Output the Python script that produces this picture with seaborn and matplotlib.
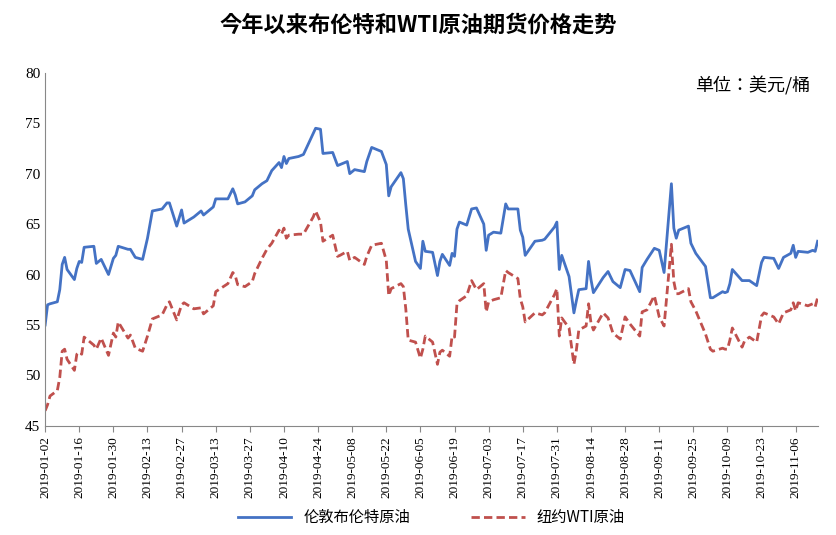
import matplotlib.pyplot as plt
import matplotlib.dates as mdates
import seaborn as sns
import pandas as pd

plt.switch_backend("Agg")
plt.rcParams["font.family"] = ["Noto Sans CJK SC", "Noto Sans CJK JP", "Noto Sans CJK TC",
                               "Noto Sans CJK KR", "DejaVu Sans"]

dates = ["01-02","01-03","01-04","01-07","01-08","01-09","01-10","01-11","01-14","01-15","01-16","01-17","01-18",
         "01-22","01-23","01-25","01-28","01-30","01-31","02-01","02-05","02-06","02-08","02-11","02-13","02-15",
         "02-19","02-21","02-22","02-25","02-27","02-28","03-04","03-07","03-08","03-12","03-13","03-18","03-20",
         "03-21","03-22","03-25","03-28","03-29","04-01","04-03","04-05","04-08","04-09","04-10","04-11","04-12",
         "04-16","04-18","04-22","04-23","04-25","04-26","04-30","05-02","05-03","05-06","05-07","05-09","05-13",
         "05-14","05-16","05-20","05-22","05-23","05-24","05-28","05-29","05-30","05-31","06-03","06-05","06-06",
         "06-07","06-10","06-12","06-13","06-14","06-17","06-18","06-19","06-20","06-21","06-24","06-26","06-28",
         "07-01","07-02","07-03","07-05","07-08","07-10","07-11","07-15","07-16","07-17","07-18","07-22","07-25",
         "07-26","07-30","07-31","08-01","08-02","08-05","08-07","08-08","08-09","08-12","08-13","08-14","08-15",
         "08-19","08-21","08-23","08-26","08-28","08-30","09-03","09-04","09-06","09-09","09-11","09-13","09-16",
         "09-17","09-18","09-19","09-23","09-24","09-26","09-30","10-02","10-03","10-07","10-08","10-09","10-10",
         "10-11","10-15","10-16","10-18","10-21","10-23","10-24","10-28","10-30","11-01","11-04","11-05","11-06",
         "11-07","11-11","11-13","11-14","11-15"]

brent = [55,57,57.1,57.3,58.5,61,61.7,60.5,59.5,60.6,61.3,61.2,62.7,
         62.8,61.1,61.5,60,61.6,61.9,62.8,62.5,62.5,61.7,61.5,63.6,66.3,
         66.5,67.1,67.1,64.8,66.4,65.1,65.7,66.3,65.9,66.7,67.5,67.5,68.5,
         67.9,67,67.2,67.8,68.4,69,69.3,70.3,71.1,70.6,71.7,71,71.5,
         71.7,71.9,74,74.5,74.4,72,72.1,70.8,70.9,71.2,70,70.4,70.2,
         71.2,72.6,72.2,70.9,67.8,68.7,70.1,69.5,66.9,64.5,61.3,60.6,63.3,
         62.3,62.2,59.9,61.3,62,60.9,62.1,61.8,64.5,65.2,64.9,66.5,66.6,
         65,62.4,63.9,64.2,64.1,67,66.5,66.5,64.4,63.7,61.9,63.3,63.4,
         63.5,64.7,65.2,60.5,61.9,59.8,56.2,57.4,58.5,58.6,61.3,59.5,58.2,
         59.7,60.3,59.3,58.7,60.5,60.4,58.3,60.7,61.5,62.6,62.4,60.2,69,
         64.6,63.6,64.4,64.8,63.1,62.1,60.8,57.7,57.7,58.3,58.2,58.3,59.1,
         60.5,59.4,59.4,59.4,58.9,61.2,61.7,61.6,60.6,61.7,62.1,62.9,61.7,
         62.3,62.2,62.4,62.3,63.3]

wti = [46.5,47.1,47.96,48.5,49.8,52.4,52.6,51.6,50.5,52.1,52.3,52.1,53.8,
       53,52.6,53.7,51.99,54.2,53.8,55.3,53.7,54,52.7,52.4,53.9,55.6,
       56,57,57.3,55.5,57,57.2,56.6,56.7,56.1,56.9,58.3,59.1,60.2,
       59.9,59,58.8,59.3,60.1,61.6,62.5,63.1,64.4,64,64.6,63.6,63.9,
       64,64,65.7,66.3,65.2,63.3,63.9,61.8,61.9,62.3,61.4,61.7,61,
       61.8,62.9,63.1,61.4,57.9,58.6,59.1,58.8,56.6,53.5,53.3,51.7,52.6,
       53.9,53.3,51.1,52.3,52.5,51.9,53.9,53.8,57.1,57.4,57.9,59.4,58.5,
       59.1,56.3,57.3,57.5,57.7,60.4,60.2,59.6,57.6,56.8,55.3,56.2,56,
       56.2,58,58.6,53.9,55.7,54.7,51.1,52.5,54.5,54.9,57.1,55.2,54.5,
       56.2,55.7,54.2,53.6,55.8,55.1,53.9,56.3,56.5,57.9,55.8,54.9,63,
       59.3,58.1,58.1,58.6,57.3,56.4,54.1,52.6,52.4,52.7,52.6,52.6,53.5,
       54.7,52.8,53.4,53.8,53.3,55.9,56.2,55.8,55.1,56.2,56.5,57.2,56.4,
       57.2,56.9,57.1,56.8,57.7]

df = pd.DataFrame({"date": pd.to_datetime(["2019-" + d for d in dates]),
                   "伦敦布伦特原油": brent, "纽约WTI原油": wti})
long = df.melt(id_vars="date", var_name="series", value_name="price")

fig = plt.figure(figsize=(8.36, 5.35), dpi=100)
ax = fig.add_axes([0.054, 0.204, 0.924, 0.66])
sns.lineplot(data=long, x="date", y="price", hue="series", style="series",
             palette=["#4472C4", "#C0504D"], dashes=[(None, None), (3, 1.5)],
             linewidth=2, ax=ax)

ax.set_ylim(45, 80)
ax.set_xlim(pd.Timestamp("2019-01-02"), pd.Timestamp("2019-11-15"))
ax.set_xticks(pd.date_range("2019-01-02", "2019-11-15", freq="14D"))
ax.xaxis.set_major_formatter(mdates.DateFormatter("%Y-%m-%d"))
for lab in ax.get_xticklabels():
    lab.set_rotation(90)
    lab.set_fontfamily("Liberation Serif")
    lab.set_fontsize(9.5)
for lab in ax.get_yticklabels():
    lab.set_fontfamily("Liberation Serif")
    lab.set_fontsize(11)
ax.set_xlabel("")
ax.set_ylabel("")
for s in ["top", "right"]:
    ax.spines[s].set_visible(False)
ax.spines["left"].set_color("#888888")
ax.spines["bottom"].set_color("#888888")
ax.tick_params(axis="y", length=0)
ax.tick_params(axis="x", length=4, color="#888888")

ax.text(0.99, 0.99, "单位：美元/桶", transform=ax.transAxes, ha="right", va="top", fontsize=13)
fig.suptitle("今年以来布伦特和WTI原油期货价格走势", fontsize=16, fontweight="bold", y=0.975)
ax.legend(loc="upper center", bbox_to_anchor=(0.5, -0.205), ncol=2, frameon=False,
          prop={"size": 11}, handlelength=3.5, columnspacing=4, borderpad=0.2)

fig.savefig("out.png", dpi=100)
plt.close(fig)
